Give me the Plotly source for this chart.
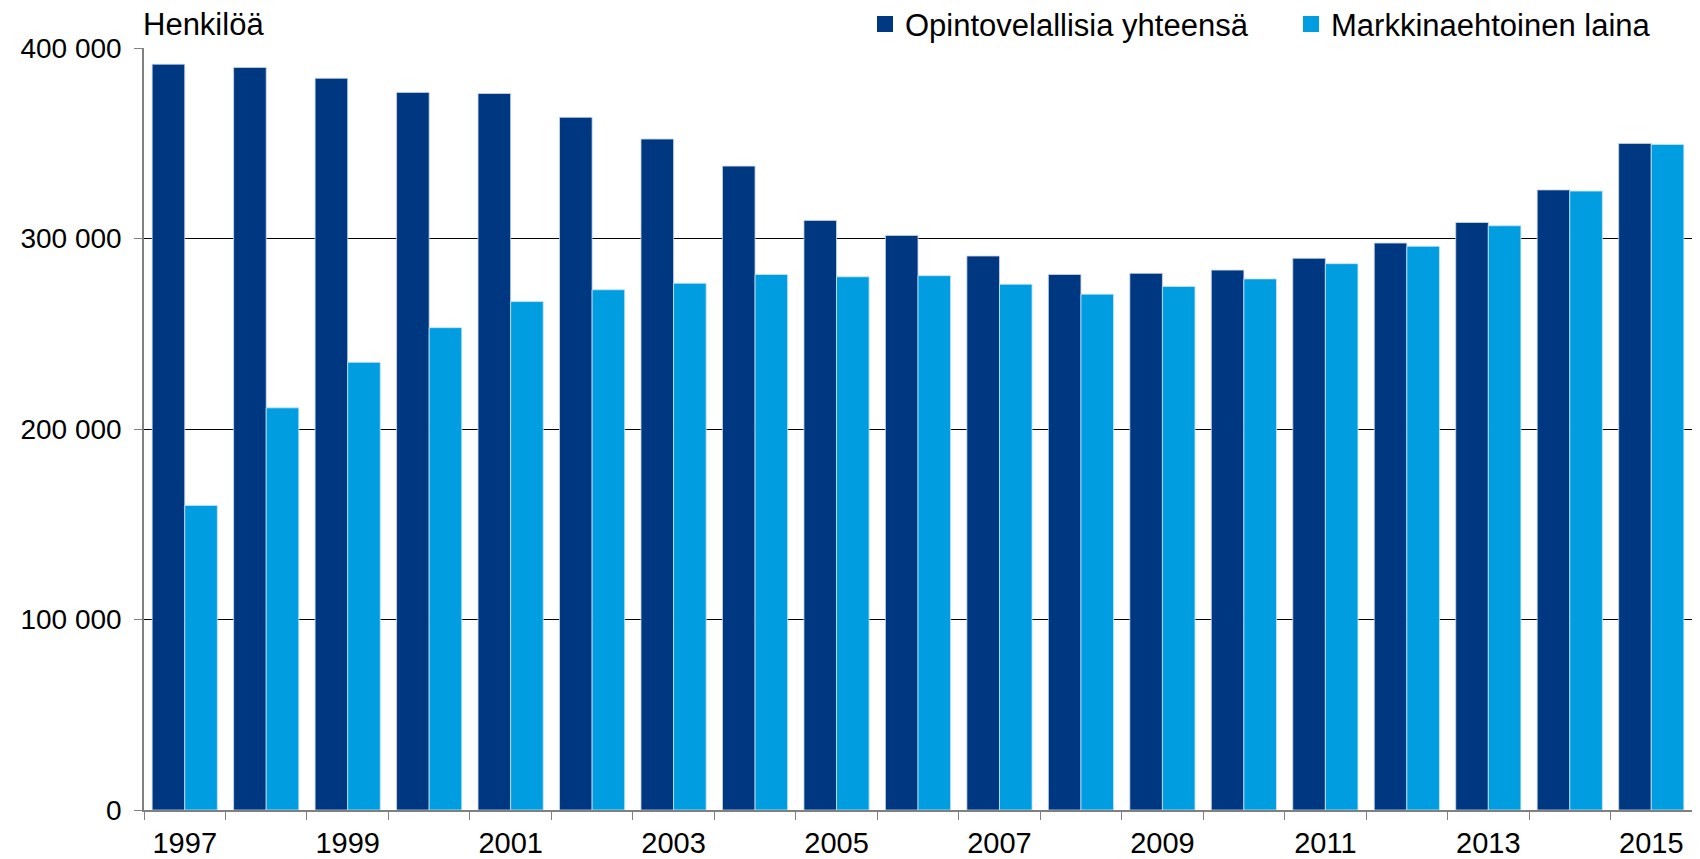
import plotly.graph_objects as go

# Opintovelalliset henkilöt vuosittain
years = [str(y) for y in range(1997, 2016)]
year_labels = [y if int(y) % 2 == 1 else "" for y in years]
total_debtors = [391500, 389800, 384100, 376700, 376100, 363600, 352200, 338000, 309500, 301600,
                 290800, 281100, 281700, 283400, 289600, 297600, 308400, 325500, 349900]
market_loan = [159900, 211100, 235000, 253200, 266900, 273100, 276500, 281100, 279900, 280500,
               276000, 270800, 274800, 278800, 286800, 295900, 306700, 324900, 349400]
y_ticks = [0, 100000, 200000, 300000, 400000]

series_names = ["Opintovelallisia yhteensä", "Markkinaehtoinen laina"]
series_colors = ["#003781", "#009ee0"]

font_family = "Liberation Sans, Arial, sans-serif"

fig = go.Figure()
fig.add_trace(go.Bar(x=years, y=total_debtors, name=series_names[0], showlegend=False,
                     marker=dict(color=series_colors[0], line=dict(color="rgba(200,215,240,0.8)", width=1))))
fig.add_trace(go.Bar(x=years, y=market_loan, name=series_names[1], showlegend=False,
                     marker=dict(color=series_colors[1], line=dict(color="rgba(200,230,250,0.8)", width=1))))

# legend entries with bigger square keys, one legend box per series
for i, (name, color) in enumerate(zip(series_names, series_colors)):
    fig.add_trace(go.Scatter(x=[None], y=[None], mode="markers", name=name,
                             marker=dict(symbol="square", size=16, color=color),
                             legend="legend" if i == 0 else "legend2"))

legend_style = dict(orientation="h", xref="container", yref="container", y=0.981,
                    xanchor="left", yanchor="middle", font=dict(size=31),
                    itemwidth=30, bgcolor="rgba(0,0,0,0)")

fig.update_layout(
    width=1700, height=859,
    margin=dict(l=136, r=16, t=40, b=57, autoexpand=False),
    plot_bgcolor="white", paper_bgcolor="white",
    barmode="group", bargap=0.2, bargroupgap=0,
    separators=", ",
    font=dict(family=font_family, size=29, color="black"),
    legend=dict(legend_style, x=857 / 1700),
    legend2=dict(legend_style, x=1283 / 1700),
    annotations=[dict(text="Henkilöä", x=0, xref="paper", y=1, yref="paper",
                      xanchor="left", yanchor="middle", showarrow=False,
                      font=dict(size=31), xshift=-3, yshift=24)],
)
fig.update_xaxes(
    type="category", tickvals=years, ticktext=year_labels,
    tickson="boundaries", ticks="outside", ticklen=8, tickcolor="#808080",
    showline=True, linecolor="#808080", linewidth=1.5, showgrid=False,
    ticklabelstandoff=6,
)
fig.update_yaxes(
    range=[0, 400000], tickvals=y_ticks, tickformat=",d",
    ticks="outside", ticklen=8, tickcolor="#808080",
    showline=True, linecolor="#808080", linewidth=1.5,
    showgrid=True, gridcolor="black", gridwidth=1.2, zeroline=False,
    ticklabelstandoff=7, tickfont=dict(size=28),
)

fig.write_html("out.html")
